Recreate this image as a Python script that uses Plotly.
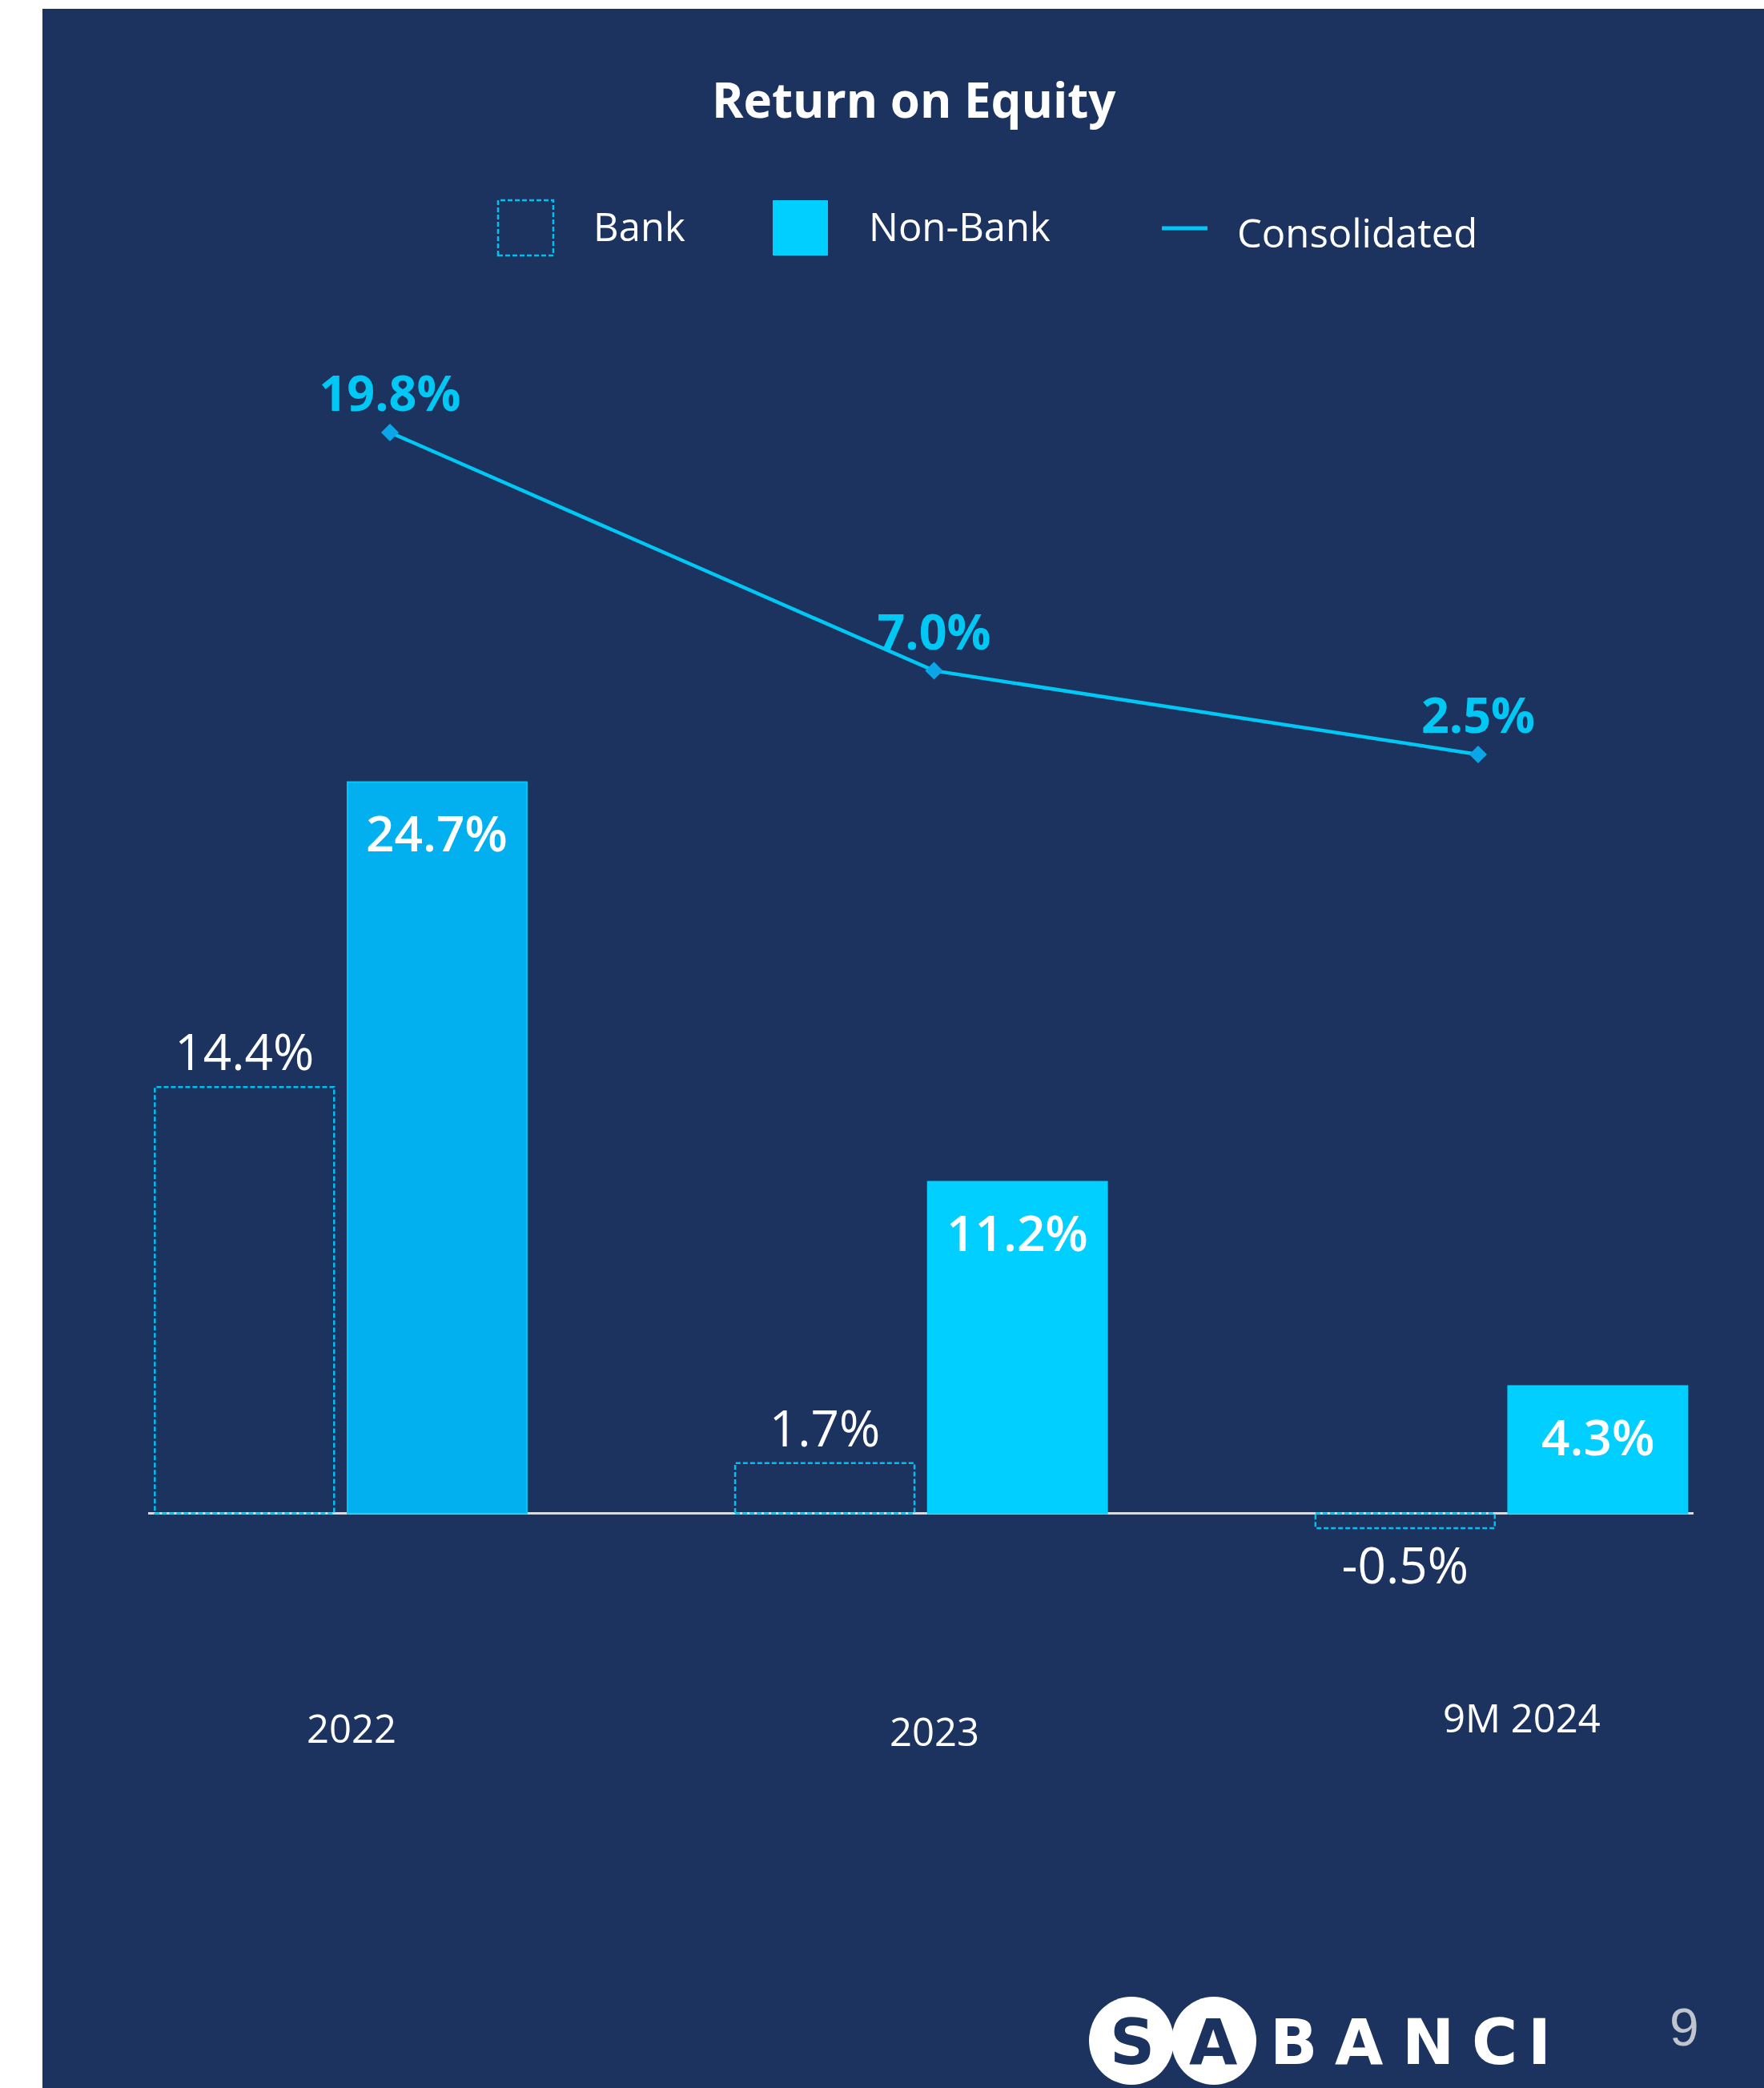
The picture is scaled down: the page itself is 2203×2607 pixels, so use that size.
import plotly.graph_objects as go

# ---------------- data ----------------
categories = ["2022", "2023", "9M 2024"]
bank = [14.4, 1.7, -0.5]
non_bank = [24.7, 11.2, 4.3]
consolidated = [19.8, 7.0, 2.5]
series_names = ["Bank", "Non-Bank", "Consolidated"]
title_text = "Return on Equity"

# ---------------- style ----------------
W, H = 2203, 2607
NAVY = "#1C3360"
CYAN = "#00CFFF"
LINE_CYAN = "#00C8F5"
MARKER_BLUE = "#0AA6E8"
FONT = "Open Sans"
NB_FILL = ["#02B0F0", CYAN, CYAN]
NB_EDGE = ["#00C8F8", CYAN, CYAN]
BAR_W = 0.309
BANK_OFF = -0.321
NB_OFF = 0.011
CAT_SHIFT = [(13, 0), (16, -4), (25, 13)]


def fx(p):
    return p / W


def fy(p):
    return 1 - p / H


fig = go.Figure()

# Bank bars (transparent fill, dashed outline drawn as shapes below)
fig.add_trace(go.Bar(
    x=categories, y=bank, name=series_names[0],
    width=BAR_W, offset=BANK_OFF,
    marker=dict(color="rgba(0,0,0,0)", line=dict(width=0)),
    text=[f"{v:.1f}%" for v in bank], textposition="outside",
    textfont=dict(family=FONT, size=62, color="white", weight=500),
    cliponaxis=False, showlegend=False,
))

# Non-Bank bars (labels added as annotations inside the bar tops)
fig.add_trace(go.Bar(
    x=categories, y=non_bank, name=series_names[1],
    width=BAR_W, offset=NB_OFF,
    marker=dict(color=NB_FILL, line=dict(color=NB_EDGE, width=2)),
    cliponaxis=False, showlegend=False,
))

# Consolidated line (own overlay axes)
fig.add_trace(go.Scatter(
    x=categories, y=consolidated, name=series_names[2],
    xaxis="x2", yaxis="y2", mode="lines+markers+text",
    line=dict(color=LINE_CYAN, width=4.5),
    marker=dict(symbol="diamond", size=17, color=MARKER_BLUE),
    text=[f"{v:.1f}%" for v in consolidated], textposition="top center",
    textfont=dict(family=FONT, size=61, color=LINE_CYAN, weight=700),
    cliponaxis=False, showlegend=False,
))

shapes = []
# navy slide background
shapes.append(dict(type="rect", xref="paper", yref="paper",
                   x0=fx(53), x1=1, y0=0, y1=fy(11),
                   fillcolor=NAVY, line=dict(width=0), layer="below"))
# dashed outlines for bank bars, derived from the data
for i, v in enumerate(bank):
    shapes.append(dict(type="rect", xref="x", yref="y",
                       x0=i + BANK_OFF, x1=i + BANK_OFF + BAR_W,
                       y0=0, y1=v,
                       line=dict(color="#00C0F0", width=2.5, dash="6px,3px"),
                       fillcolor="rgba(0,0,0,0)", layer="above"))
# legend symbols
shapes.append(dict(type="rect", xref="paper", yref="paper",
                   x0=fx(622), x1=fx(691), y0=fy(319), y1=fy(250),
                   line=dict(color="#00C0F0", width=2.5, dash="6px,3px")))
shapes.append(dict(type="rect", xref="paper", yref="paper",
                   x0=fx(965), x1=fx(1034), y0=fy(319), y1=fy(250),
                   fillcolor=CYAN, line=dict(width=0)))
shapes.append(dict(type="line", xref="paper", yref="paper",
                   x0=fx(1451), x1=fx(1508), y0=fy(285), y1=fy(285),
                   line=dict(color=LINE_CYAN, width=5)))
# logo ovals
for x0, x1 in [(1360, 1466), (1463, 1569)]:
    shapes.append(dict(type="circle", xref="paper", yref="paper",
                       x0=fx(x0), x1=fx(x1), y0=fy(2603), y1=fy(2493),
                       fillcolor="white", line=dict(width=0)))

ann = []
ann.append(dict(text=f"<b>{title_text}</b>", xref="paper", yref="paper",
                x=fx(1141), y=fy(124), xanchor="center", yanchor="middle",
                showarrow=False,
                font=dict(family=FONT, size=60, color="white")))
for name, xl, yc in [(series_names[0], 739, 282), (series_names[1], 1083, 282),
                     (series_names[2], 1543, 290)]:
    ann.append(dict(text=name, xref="paper", yref="paper", x=fx(xl), y=fy(yc),
                    xanchor="left", yanchor="middle", showarrow=False,
                    font=dict(family=FONT, size=49, color="white")))
# category labels
for i, (cat, (dx, dy)) in enumerate(zip(categories, CAT_SHIFT)):
    ann.append(dict(text=cat, xref="x", yref="paper", x=i, y=fy(2157),
                    xanchor="center", yanchor="middle",
                    xshift=dx, yshift=dy, showarrow=False,
                    font=dict(family=FONT, size=49, color="white", weight=500)))
# non-bank value labels, just inside the top of each bar
for i, v in enumerate(non_bank):
    ann.append(dict(text=f"{v:.1f}%", xref="x", yref="y",
                    x=i + NB_OFF + BAR_W / 2, y=v,
                    xanchor="center", yanchor="middle", yshift=-62,
                    showarrow=False,
                    font=dict(family=FONT, size=62, color="white", weight=600)))
# logo text
for ch, cx, col in [("S", 1414, NAVY), ("A", 1515, NAVY), ("B", 1615, "white"),
                    ("A", 1697, "white"), ("N", 1783, "white"),
                    ("C", 1866, "white"), ("I", 1922, "white")]:
    ann.append(dict(text=f"<b>{ch}</b>", xref="paper", yref="paper",
                    x=fx(cx), y=fy(2550), xanchor="center", yanchor="middle",
                    showarrow=False,
                    font=dict(family="DejaVu Sans", size=78, color=col)))
ann.append(dict(text="9", xref="paper", yref="paper", x=fx(2103), y=fy(2531),
                xanchor="center", yanchor="middle", showarrow=False,
                font=dict(family="Liberation Sans", size=66, color="#C0C4CC")))

fig.update_layout(
    width=W, height=H, autosize=False,
    margin=dict(l=0, r=0, t=0, b=0, pad=0),
    paper_bgcolor="white", plot_bgcolor="rgba(0,0,0,0)",
    barmode="overlay", showlegend=False,
    xaxis=dict(type="category", domain=[fx(185), fx(2115)],
               range=[-0.3325, 2.3305], visible=True, showticklabels=False,
               showgrid=False, zeroline=False, showline=False, ticks=""),
    yaxis=dict(domain=[0, 1], range=[-(H - 1889.5) / 36.96, 1889.5 / 36.96],
               showgrid=False, showticklabels=False, ticks="",
               zeroline=True, zerolinecolor="#D8DCE2", zerolinewidth=3,
               showline=False),
    xaxis2=dict(type="category", overlaying="x", anchor="y2",
                range=[-0.4444, 2.3959], visible=False),
    yaxis2=dict(overlaying="y", anchor="x2",
                range=[-(H - 1000.1) / 23.24, 1000.1 / 23.24], visible=False),
    shapes=shapes, annotations=ann,
)

fig.write_html("out.html", config={"displayModeBar": False},
               post_script="document.body.style.margin='0px';document.body.style.overflow='hidden';")
